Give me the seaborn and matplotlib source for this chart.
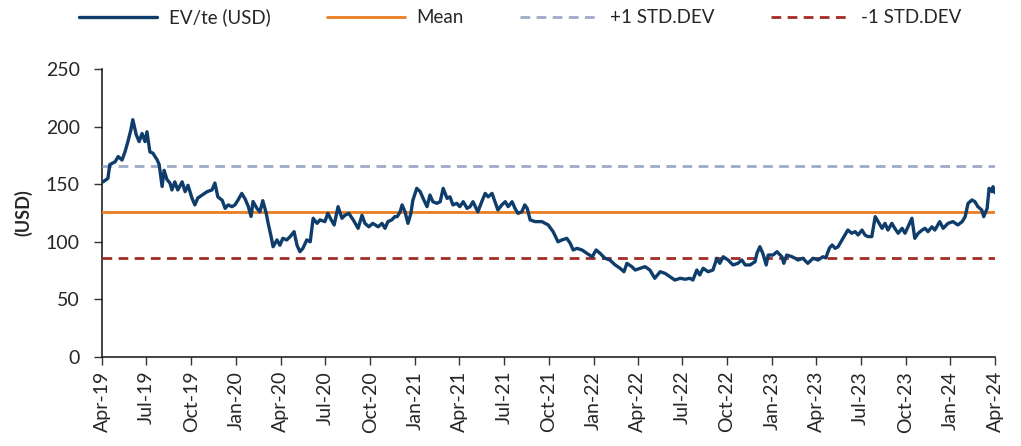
import numpy as np
import pandas as pd
import matplotlib
matplotlib.use('Agg')
import matplotlib.pyplot as plt
import matplotlib.dates as mdates
import seaborn as sns

sns.set_style('white')
plt.rcParams['font.family'] = ['Lato', 'DejaVu Sans']

# EV/te (USD)
DATES = [
    '2019-04-03', '2019-04-13', '2019-04-17', '2019-04-28', '2019-05-04', '2019-05-12', '2019-05-18',
    '2019-05-24', '2019-05-30', '2019-06-03', '2019-06-10', '2019-06-16', '2019-06-22', '2019-06-28',
    '2019-07-02', '2019-07-08', '2019-07-14', '2019-07-23', '2019-07-27', '2019-08-02', '2019-08-06',
    '2019-08-12', '2019-08-18', '2019-08-22', '2019-08-28', '2019-09-03', '2019-09-12', '2019-09-18',
    '2019-09-24', '2019-10-02', '2019-10-08', '2019-10-14', '2019-10-23', '2019-11-02', '2019-11-12',
    '2019-11-18', '2019-11-24', '2019-12-03', '2019-12-09', '2019-12-15', '2019-12-23', '2019-12-29',
    '2020-01-04', '2020-01-12', '2020-01-19', '2020-01-25', '2020-01-31', '2020-02-04', '2020-02-12',
    '2020-02-18', '2020-02-24', '2020-03-02', '2020-03-06', '2020-03-12', '2020-03-16', '2020-03-24',
    '2020-03-30', '2020-04-05', '2020-04-13', '2020-04-20', '2020-04-28', '2020-05-04', '2020-05-10',
    '2020-05-16', '2020-05-24', '2020-05-31', '2020-06-06', '2020-06-14', '2020-06-20', '2020-06-30',
    '2020-07-06', '2020-07-13', '2020-07-19', '2020-07-27', '2020-08-04', '2020-08-10', '2020-08-18',
    '2020-08-27', '2020-09-06', '2020-09-14', '2020-09-20', '2020-09-28', '2020-10-06', '2020-10-17',
    '2020-10-25', '2020-10-31', '2020-11-06', '2020-11-14', '2020-11-20', '2020-11-25', '2020-12-01',
    '2020-12-05', '2020-12-11', '2020-12-17', '2020-12-23', '2020-12-27', '2021-01-04', '2021-01-11',
    '2021-01-17', '2021-01-25', '2021-01-31', '2021-02-06', '2021-02-14', '2021-02-21', '2021-02-27',
    '2021-03-07', '2021-03-13', '2021-03-19', '2021-03-27', '2021-04-02', '2021-04-09', '2021-04-17',
    '2021-04-23', '2021-04-29', '2021-05-09', '2021-05-17', '2021-05-24', '2021-05-30', '2021-06-07',
    '2021-06-13', '2021-06-19', '2021-06-27', '2021-07-04', '2021-07-10', '2021-07-18', '2021-07-24',
    '2021-07-30', '2021-08-07', '2021-08-13', '2021-08-18', '2021-08-24', '2021-09-03', '2021-09-17',
    '2021-09-30', '2021-10-10', '2021-10-20', '2021-10-28', '2021-11-07', '2021-11-14', '2021-11-20',
    '2021-11-28', '2021-12-08', '2021-12-18', '2021-12-29', '2022-01-06', '2022-01-14', '2022-01-24',
    '2022-02-03', '2022-02-14', '2022-02-24', '2022-03-04', '2022-03-10', '2022-03-20', '2022-03-27',
    '2022-04-06', '2022-04-16', '2022-04-26', '2022-05-06', '2022-05-17', '2022-05-27', '2022-06-06',
    '2022-06-16', '2022-06-27', '2022-07-07', '2022-07-17', '2022-07-23', '2022-07-31', '2022-08-06',
    '2022-08-13', '2022-08-23', '2022-09-02', '2022-09-10', '2022-09-16', '2022-09-23', '2022-10-03',
    '2022-10-13', '2022-10-23', '2022-10-31', '2022-11-07', '2022-11-17', '2022-11-27', '2022-12-01',
    '2022-12-07', '2022-12-13', '2022-12-20', '2022-12-24', '2023-01-03', '2023-01-11', '2023-01-21',
    '2023-01-25', '2023-01-31', '2023-02-11', '2023-02-17', '2023-02-23', '2023-03-05', '2023-03-15',
    '2023-03-26', '2023-04-05', '2023-04-15', '2023-04-21', '2023-04-25', '2023-04-29', '2023-05-04',
    '2023-05-10', '2023-05-16', '2023-05-24', '2023-05-30', '2023-06-05', '2023-06-13', '2023-06-20',
    '2023-06-26', '2023-07-04', '2023-07-10', '2023-07-16', '2023-07-24', '2023-07-31', '2023-08-06',
    '2023-08-14', '2023-08-20', '2023-08-26', '2023-09-03', '2023-09-09', '2023-09-16', '2023-09-24',
    '2023-09-30', '2023-10-06', '2023-10-14', '2023-10-20', '2023-10-27', '2023-11-04', '2023-11-10',
    '2023-11-16', '2023-11-24', '2023-11-30', '2023-12-10', '2023-12-17', '2023-12-27', '2024-01-06',
    '2024-01-16', '2024-01-25', '2024-01-31', '2024-02-06', '2024-02-14', '2024-02-20', '2024-02-26',
    '2024-03-05', '2024-03-09', '2024-03-16', '2024-03-20', '2024-03-26', '2024-03-28', '2024-04-01',
]
EV_TE = [
    152, 155, 167, 169.5, 174, 171, 178,
    187, 197, 206, 193, 187, 194, 187,
    195.5, 178, 177, 171, 167, 148, 162,
    154, 151, 145, 152, 145, 152, 143.5,
    149, 138, 132, 138, 140.6, 143.5, 145,
    151, 139, 136, 129, 132, 130.5, 132,
    136, 142, 137, 131, 122, 135, 129,
    126, 135.7, 124.7, 116, 104.5, 95.7, 101.6,
    97, 103, 101.6, 104.5, 108.8, 97, 91.4,
    94.3, 101.6, 100, 120.4, 116, 119, 117.5,
    124.7, 119, 114.6, 130.5, 120.4, 123, 124.7,
    119, 111.7, 123, 116, 113, 116, 113,
    116, 111.7, 117.5, 119, 121.8, 121.8, 126,
    132, 126, 116, 124.7, 136, 146.4, 143.5,
    137.7, 130.5, 140.6, 134.8, 133.4, 134.8, 146.4,
    137.7, 139, 132, 133.4, 130.5, 134.8, 129,
    130.5, 134.8, 126, 134.8, 142, 139, 142,
    134.8, 127.6, 132, 134.8, 130.5, 134.8, 129,
    124.7, 126, 132, 129, 119, 117.5, 117.5,
    114.6, 108.8, 100, 101.6, 103, 98.7, 92.9,
    94.3, 92.9, 90, 87, 92.9, 90, 85.7,
    84.2, 79.9, 77, 74, 81.3, 78.4, 75.5,
    77, 78.4, 75.5, 68.3, 74, 72.6, 69.7,
    66.8, 68.3, 67.5, 68.3, 66.8, 75.5, 71.2,
    77, 74, 75.5, 85.7, 81.3, 87, 84.2,
    79.9, 81.3, 84.2, 79.9, 79.9, 82.7, 90,
    95.7, 90, 79.9, 88.5, 88.5, 91.4, 87,
    81.3, 88.5, 87, 85.7, 84.2, 85.7, 81.3,
    85.7, 84.2, 87, 86, 91, 95, 97.2,
    94.3, 95.7, 101.6, 105.9, 110.2, 107.4, 108.8,
    105.9, 110.2, 105.9, 104.5, 104.5, 121.8, 117.5,
    111.7, 116, 110.2, 116, 111.7, 107.4, 111.7,
    107.4, 113, 120.4, 103, 107.4, 110.2, 111.7,
    108.8, 113, 110.2, 117.5, 111.7, 116, 117.5,
    114.6, 117.5, 121.8, 133.4, 136.3, 134.8, 130.5,
    127.6, 121.8, 129, 146.4, 143.5, 147.8, 142.6,
]
MEAN = 126
PLUS_STD = 166
MINUS_STD = 86

C_LINE = '#0f3d6b'
C_MEAN = '#ea7d22'
C_PLUS = '#9eabc6'
C_MINUS = '#a62a27'

df = pd.DataFrame({'date': pd.to_datetime(DATES), 'value': EV_TE})

fig = plt.figure(figsize=(10.21, 4.46), dpi=100)
ax = fig.add_axes([0.0999, 0.1996, 0.8746, 0.6457])

sns.lineplot(data=df, x='date', y='value', ax=ax, color=C_LINE, lw=2.4,
             label='EV/te (USD)', zorder=4)
ax.axhline(MEAN, color=C_MEAN, lw=2.0, label='Mean', zorder=3)
ax.axhline(PLUS_STD, color=C_PLUS, lw=2.0, ls=(0, (3.5, 2.3)), label='+1 STD.DEV', zorder=3)
ax.axhline(MINUS_STD, color=C_MINUS, lw=2.0, ls=(0, (3.5, 2.3)), label='-1 STD.DEV', zorder=3)

ax.set_xlim(pd.Timestamp('2019-04-01'), pd.Timestamp('2024-04-01'))
ax.set_ylim(0, 250)
ax.set_yticks([0, 50, 100, 150, 200, 250])
ax.xaxis.set_major_locator(mdates.MonthLocator(bymonth=[1, 4, 7, 10]))
ax.xaxis.set_major_formatter(mdates.DateFormatter('%b-%y'))
plt.setp(ax.get_xticklabels(), rotation=90)

ax.tick_params(axis='both', which='major', labelsize=14, length=6, width=1,
               color='#333333', direction='out', bottom=True, left=True)
ax.tick_params(axis='y', pad=10)
ax.tick_params(axis='x', pad=4)
ax.set_xlabel('')
ax.set_ylabel('(USD)', fontsize=13, fontweight='bold', labelpad=10)
for s in ['top', 'right']:
    ax.spines[s].set_visible(False)
for s in ['left', 'bottom']:
    ax.spines[s].set_color('#222222')
    ax.spines[s].set_linewidth(1.2)

ax.legend(loc='center', bbox_to_anchor=(0.468, 1.18), ncol=4, frameon=False,
          fontsize=13.5, handlelength=4.2, columnspacing=3.0, handletextpad=0.6)

plt.savefig('out.png', dpi=100)
